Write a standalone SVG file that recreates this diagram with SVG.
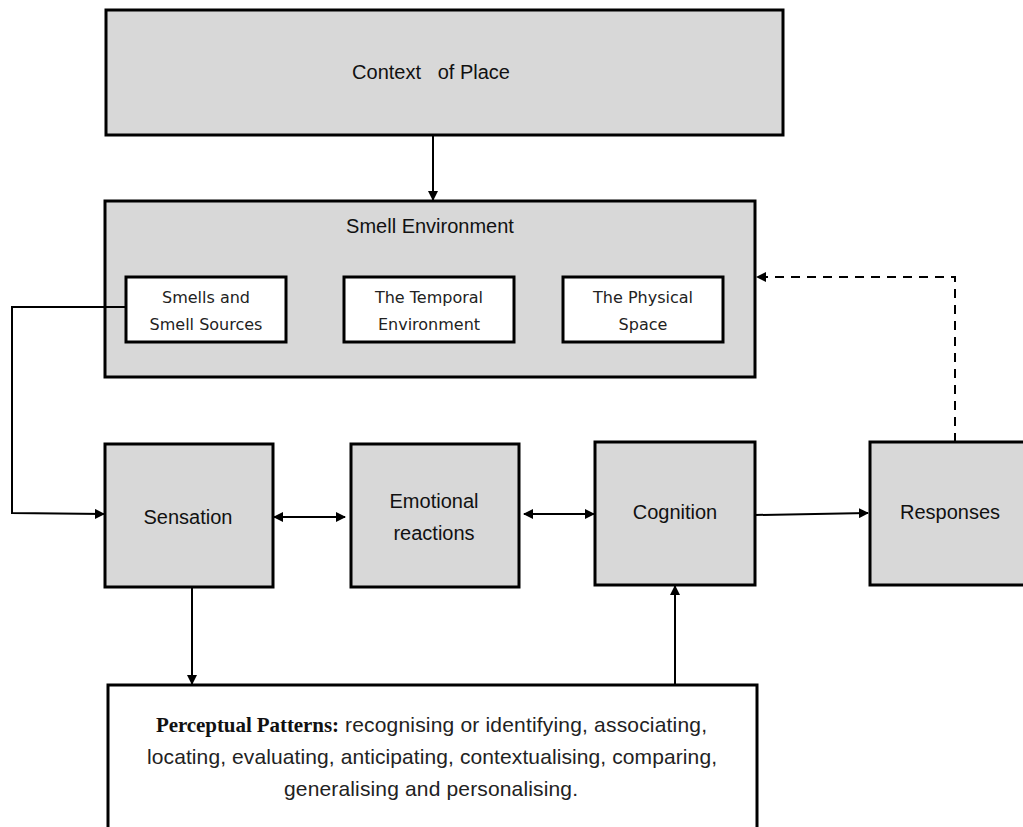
<svg xmlns="http://www.w3.org/2000/svg" width="1023" height="827" viewBox="0 0 1023 827">
<style>
.box{fill:#d8d8d8;stroke:#000;stroke-width:3}
.wbox{fill:#fff;stroke:#000;stroke-width:3}
.lbl{font-family:"Liberation Sans",Arial,sans-serif;font-size:20px;fill:#111;text-anchor:middle}
.sm{font-family:"DejaVu Sans","Liberation Sans",sans-serif;font-size:16px;fill:#222;text-anchor:middle}
.bt{font-family:"Liberation Sans",Arial,sans-serif;font-size:21px;fill:#222}
.ser{font-family:"Liberation Serif","Times New Roman",serif;font-weight:bold;font-size:21px;fill:#111}
.ln{fill:none;stroke:#000;stroke-width:2}
.dash{fill:none;stroke:#000;stroke-width:2;stroke-dasharray:9 7}
</style>
<defs>
<marker id="ah" markerWidth="10" markerHeight="10" refX="9" refY="5" orient="auto" markerUnits="userSpaceOnUse">
<path d="M0,0 L10,5 L0,10 Z" fill="#000"/>
</marker>
<marker id="as" markerWidth="10" markerHeight="10" refX="1" refY="5" orient="auto" markerUnits="userSpaceOnUse">
<path d="M10,0 L0,5 L10,10 Z" fill="#000"/>
</marker>
</defs>
<rect width="1023" height="827" fill="#fff"/>

<g id="context">
<rect class="box" x="106" y="10" width="677" height="125"/>
<text class="lbl" x="431" y="79" xml:space="preserve">Context   of Place</text>
</g>

<g id="smell-environment">
<rect class="box" x="105" y="201" width="650" height="176"/>
<text class="lbl" x="430" y="233">Smell Environment</text>
</g>
<g id="smells">
<rect class="wbox" x="126" y="277" width="160" height="65"/>
<text class="sm" x="206" y="303">Smells and</text>
<text class="sm" x="206" y="330">Smell Sources</text>
</g>
<g id="temporal">
<rect class="wbox" x="344" y="277" width="170" height="65"/>
<text class="sm" x="429" y="303">The Temporal</text>
<text class="sm" x="429" y="330">Environment</text>
</g>
<g id="physical">
<rect class="wbox" x="563" y="277" width="160" height="65"/>
<text class="sm" x="643" y="303">The Physical</text>
<text class="sm" x="643" y="330">Space</text>
</g>

<g id="sensation">
<rect class="box" x="105" y="444" width="168" height="143"/>
<text class="lbl" x="188" y="524">Sensation</text>
</g>
<g id="emotional">
<rect class="box" x="351" y="444" width="168" height="143"/>
<text class="lbl" x="434" y="508">Emotional</text>
<text class="lbl" x="434" y="540">reactions</text>
</g>
<g id="cognition">
<rect class="box" x="595" y="442" width="160" height="143"/>
<text class="lbl" x="675" y="519">Cognition</text>
</g>
<g id="responses">
<rect class="box" x="870" y="442" width="160" height="143"/>
<text class="lbl" x="950" y="519">Responses</text>
</g>

<g id="perceptual">
<rect class="wbox" x="108" y="685" width="649" height="150"/>
<text class="ser" x="156" y="732" textLength="183" lengthAdjust="spacing">Perceptual Patterns:</text>
<text class="bt" x="345" y="732" textLength="362" lengthAdjust="spacing">recognising or identifying, associating,</text>
<text class="bt" x="147" y="764" textLength="570" lengthAdjust="spacing">locating, evaluating, anticipating, contextualising, comparing,</text>
<text class="bt" x="284" y="796" textLength="294" lengthAdjust="spacing">generalising and personalising.</text>
</g>

<g id="connectors">
<line class="ln" x1="433" y1="135" x2="433" y2="200" marker-end="url(#ah)"/>
<polyline class="ln" points="126,307 12,307 12,513 104,514" marker-end="url(#ah)"/>
<line class="ln" x1="274" y1="517" x2="345" y2="517" marker-start="url(#as)" marker-end="url(#ah)"/>
<line class="ln" x1="524" y1="514" x2="594" y2="514" marker-start="url(#as)" marker-end="url(#ah)"/>
<line class="ln" x1="755" y1="515" x2="868" y2="513" marker-end="url(#ah)"/>
<polyline class="dash" points="955,442 955,277 757,277" marker-end="url(#ah)"/>
<line class="ln" x1="192" y1="588" x2="192" y2="684" marker-end="url(#ah)"/>
<line class="ln" x1="675" y1="685" x2="675" y2="586" marker-end="url(#ah)"/>
</g>
</svg>
